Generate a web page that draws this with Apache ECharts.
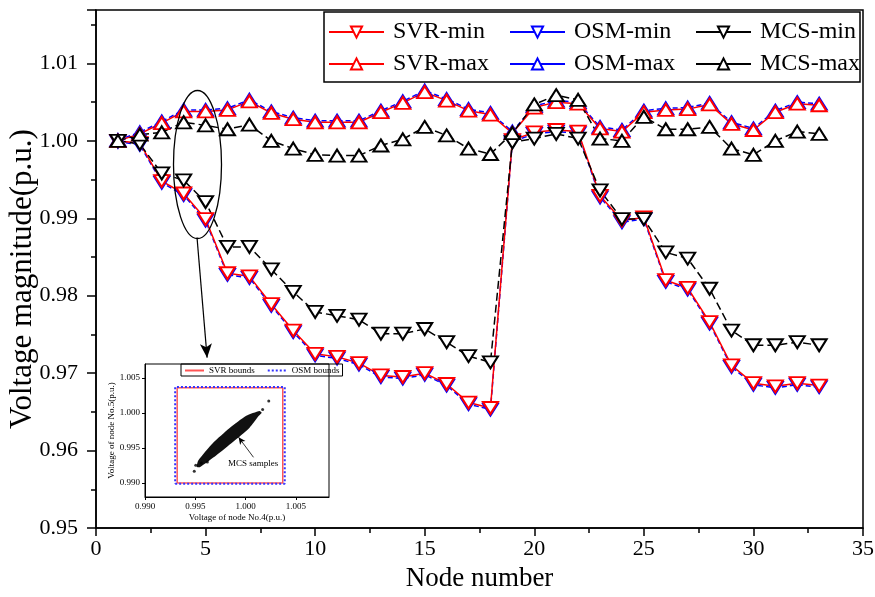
<!DOCTYPE html>
<html>
<head>
<meta charset="utf-8">
<script src="https://cdn.jsdelivr.net/npm/echarts@6/dist/echarts.min.js"></script>
<style>
html, body { margin: 0; padding: 0; background: #fff; }
#chart { width: 875px; height: 597px; }
</style>
</head>
<body>
<div id="chart"></div>
<script>
'use strict';

var nodes = [1, 2, 3, 4, 5, 6, 7, 8, 9, 10, 11, 12, 13, 14, 15, 16, 17,
    18, 19, 20, 21, 22, 23, 24, 25, 26, 27, 28, 29, 30, 31, 32, 33];

var svrMin = [1.0000, 0.9997, 0.9948, 0.9932, 0.9899, 0.9829, 0.9825, 0.9789, 0.9755, 0.9725, 0.9721,
    0.9713, 0.9697, 0.9695, 0.9700, 0.9686, 0.9662, 0.9655, 1.0001, 1.0011, 1.0014, 1.0012,
    0.9929, 0.9897, 0.9901, 0.9820, 0.9810, 0.9766, 0.9710, 0.9687, 0.9683, 0.9687, 0.9684];
var svrMax = [1.0000, 1.0009, 1.0023, 1.0038, 1.0038, 1.0040, 1.0051, 1.0036, 1.0028, 1.0024, 1.0024,
    1.0024, 1.0037, 1.0049, 1.0063, 1.0052, 1.0039, 1.0034, 1.0010, 1.0043, 1.0050, 1.0048,
    1.0016, 1.0012, 1.0037, 1.0040, 1.0041, 1.0047, 1.0022, 1.0014, 1.0037, 1.0048, 1.0046];
var osmMin = [0.9999, 0.9995, 0.9946, 0.9930, 0.9897, 0.9827, 0.9823, 0.9787, 0.9753, 0.9723, 0.9719,
    0.9711, 0.9695, 0.9693, 0.9698, 0.9684, 0.9660, 0.9653, 0.9999, 1.0009, 1.0012, 1.0010,
    0.9927, 0.9895, 0.9899, 0.9818, 0.9808, 0.9764, 0.9708, 0.9685, 0.9681, 0.9685, 0.9682];
var osmMax = [1.0001, 1.0011, 1.0025, 1.0040, 1.0040, 1.0042, 1.0053, 1.0038, 1.0030, 1.0026, 1.0026,
    1.0026, 1.0039, 1.0051, 1.0065, 1.0054, 1.0041, 1.0036, 1.0012, 1.0045, 1.0052, 1.0050,
    1.0018, 1.0014, 1.0039, 1.0042, 1.0043, 1.0049, 1.0024, 1.0016, 1.0039, 1.0050, 1.0048];
var mcsMin = [1.0000, 0.9996, 0.9958, 0.9949, 0.9921, 0.9863, 0.9863, 0.9834, 0.9805, 0.9779, 0.9774,
    0.9769, 0.9751, 0.9751, 0.9757, 0.9740, 0.9722, 0.9714, 0.9998, 1.0003, 1.0009, 1.0003,
    0.9936, 0.9899, 0.9899, 0.9856, 0.9848, 0.9809, 0.9755, 0.9736, 0.9736, 0.9740, 0.9736];
var mcsMax = [1.0000, 1.0008, 1.0011, 1.0024, 1.0020, 1.0015, 1.0021, 1.0000, 0.9990, 0.9982, 0.9981,
    0.9981, 0.9994, 1.0002, 1.0018, 1.0007, 0.9990, 0.9983, 1.0010, 1.0047, 1.0059, 1.0053,
    1.0003, 1.0000, 1.0031, 1.0015, 1.0015, 1.0018, 0.9990, 0.9982, 1.0000, 1.0012, 1.0009];

// inset: node 4 vs node 5 bounds and MCS sample cloud
var svrBox4 = [0.9932, 1.0037];
var svrBox5 = [0.9900, 1.0036];
var osmBox4 = [0.9930, 1.0039];
var osmBox5 = [0.9899, 1.0037];
var cloudNode4 = [0.99515, 0.99530, 0.99676, 0.99842, 1.00007, 1.00139, 1.00160,
    1.00132, 1.00040, 0.99874, 0.99710, 0.99545];
var cloudNode5 = [0.99231, 0.99320, 0.99570, 0.99785, 0.99960, 1.00030, 1.00005,
    0.99960, 0.99790, 0.99585, 0.99395, 0.99225];
var strayNode4 = [0.99490, 1.00231, 0.99505, 0.99560, 1.00170, 0.99620];
var strayNode5 = [0.99167, 1.00171, 0.99255, 0.99285, 1.00050, 0.99300];
var insetTicks = [0.990, 0.995, 1.000, 1.005];

var FONT = 'Liberation Serif';

function pairs(xs, ys) {
    return xs.map(function (x, i) { return [x, ys[i]]; });
}

function box(xr, yr) {
    return [[xr[0], yr[0]], [xr[1], yr[0]], [xr[1], yr[1]], [xr[0], yr[1]], [xr[0], yr[0]]];
}

function boundSeries(name, values, color, dash, down) {
    return {
        name: name,
        type: 'line',
        data: pairs(nodes, values),
        symbol: 'triangle',
        symbolSize: [15, 12],
        symbolRotate: down ? 180 : 0,
        lineStyle: { color: color, width: 1.5, type: dash },
        itemStyle: { color: '#fff', borderColor: color, borderWidth: 2 },
        z: 3
    };
}

var mainLegend = {
    orient: 'vertical',
    top: 20,
    itemWidth: 55,
    itemHeight: 14,
    itemGap: 8,
    padding: 0,
    selectedMode: false,
    lineStyle: { type: 'solid' },
    textStyle: { fontFamily: FONT, fontSize: 24, color: '#000', lineHeight: 24, padding: [0, 0, 0, 4] }
};

var chart = echarts.init(document.getElementById('chart'));

chart.setOption({
    animation: false,
    backgroundColor: '#fff',
    legend: [
        Object.assign({ left: 328, data: ['SVR-min', 'SVR-max'] }, mainLegend),
        Object.assign({ left: 509, data: ['OSM-min', 'OSM-max'] }, mainLegend),
        Object.assign({ left: 695, data: ['MCS-min', 'MCS-max'] }, mainLegend),
        {
            left: 181, top: 364,
            data: ['SVR bounds', 'OSM bounds'],
            itemWidth: 19, itemHeight: 8, itemGap: 12,
            padding: [2, 3, 1, 3],
            borderColor: '#000', borderWidth: 1,
            selectedMode: false,
            itemStyle: { opacity: 0 },
            textStyle: { fontFamily: FONT, fontSize: 9, color: '#000' }
        }
    ],
    grid: [
        { left: 96, right: 12, top: 10, bottom: 69, outerBoundsMode: 'none', containLabel: false,
            show: true, borderColor: '#000', borderWidth: 1.5 },
        { left: 145, top: 364, width: 184, height: 133, outerBoundsMode: 'none', containLabel: false,
            show: true, borderColor: '#000', borderWidth: 1, backgroundColor: '#fff' }
    ],
    xAxis: [{
        type: 'value', gridIndex: 0, min: 0, max: 35, interval: 5,
        name: 'Node number', nameLocation: 'middle', nameGap: 37, nameMoveOverlap: false,
        nameTextStyle: { fontFamily: FONT, fontSize: 27, color: '#000' },
        axisLine: { lineStyle: { color: '#000', width: 1.5 } },
        axisTick: { length: 8, lineStyle: { color: '#000', width: 1.5 } },
        minorTick: { show: true, splitNumber: 2, length: 5, lineStyle: { color: '#000', width: 1.5 } },
        axisLabel: { fontFamily: FONT, fontSize: 22, color: '#000', margin: 10 },
        splitLine: { show: false }
    }, {
        type: 'value', gridIndex: 1, min: 0.990, max: 1.0083,
        name: 'Voltage of node No.4(p.u.)', nameLocation: 'middle', nameGap: 16,
        nameTextStyle: { fontFamily: FONT, fontSize: 9, color: '#000' },
        axisLine: { lineStyle: { color: '#000', width: 1 } },
        axisTick: { length: 3, customValues: insetTicks, lineStyle: { color: '#000' } },
        axisLabel: {
            fontFamily: FONT, fontSize: 9, color: '#000', margin: 5, customValues: insetTicks,
            formatter: function (v) { return v.toFixed(3); }
        },
        splitLine: { show: false }
    }],
    yAxis: [{
        type: 'value', gridIndex: 0, min: 0.95, max: 1.0169, interval: 0.01,
        name: 'Voltage magnitude(p.u.)', nameLocation: 'middle', nameGap: 58, nameMoveOverlap: false,
        nameTextStyle: { fontFamily: FONT, fontSize: 31, color: '#000', padding: [0, 20, 0, 0] },
        axisLine: { lineStyle: { color: '#000', width: 1.5 } },
        axisTick: { length: 9, lineStyle: { color: '#000', width: 1.5 } },
        minorTick: { show: true, splitNumber: 2, length: 5, lineStyle: { color: '#000', width: 1.5 } },
        axisLabel: {
            fontFamily: FONT, fontSize: 22, color: '#000', margin: 18, showMaxLabel: false,
            formatter: function (v) { return v.toFixed(2); }
        },
        splitLine: { show: false }
    }, {
        type: 'value', gridIndex: 1, min: 0.988, max: 1.007,
        name: 'Voltage of node No.5(p.u.)', nameLocation: 'middle', nameGap: 28,
        nameTextStyle: { fontFamily: FONT, fontSize: 9, color: '#000' },
        axisLine: { lineStyle: { color: '#000', width: 1 } },
        axisTick: { length: 3, customValues: insetTicks, lineStyle: { color: '#000' } },
        axisLabel: {
            fontFamily: FONT, fontSize: 9, color: '#000', margin: 5, customValues: insetTicks,
            formatter: function (v) { return v.toFixed(3); }
        },
        splitLine: { show: false }
    }],
    series: [
        boundSeries('OSM-min', osmMin, '#0000ff', [5, 3], true),
        boundSeries('OSM-max', osmMax, '#0000ff', [5, 3], false),
        boundSeries('SVR-min', svrMin, '#ff0000', 'solid', true),
        boundSeries('SVR-max', svrMax, '#ff0000', 'solid', false),
        Object.assign(boundSeries('MCS-min', mcsMin, '#000000', [8, 4], true), {
            markLine: {
                silent: true,
                symbol: ['none', 'arrow'],
                symbolSize: [9, 14],
                lineStyle: { color: '#000', width: 1.2, type: 'solid' },
                label: { show: false },
                data: [[{ coord: [4.61, 0.9875] }, { coord: [5.07, 0.9720] }]]
            }
        }),
        boundSeries('MCS-max', mcsMax, '#000000', [8, 4], false),
        {
            name: 'MCS samples',
            type: 'custom',
            xAxisIndex: 1, yAxisIndex: 1,
            data: [[cloudNode4[0], cloudNode5[0]]],
            renderItem: function (params, api) {
                var pts = cloudNode4.map(function (v, i) { return api.coord([v, cloudNode5[i]]); });
                return { type: 'polygon', shape: { points: pts, smooth: 0.2 }, style: { fill: '#111' } };
            },
            z: 4
        },
        {
            name: 'stray samples',
            type: 'scatter',
            xAxisIndex: 1, yAxisIndex: 1,
            data: pairs(strayNode4, strayNode5),
            symbolSize: 3,
            itemStyle: { color: '#000' },
            z: 4
        },
        {
            name: 'SVR bounds',
            type: 'line',
            xAxisIndex: 1, yAxisIndex: 1,
            data: box(svrBox4, svrBox5),
            symbol: 'none',
            lineStyle: { color: '#ff5555', width: 1.5 },
            z: 5,
            markLine: {
                silent: true,
                symbol: ['none', 'arrow'],
                symbolSize: [5, 7],
                lineStyle: { color: '#000', width: 0.8, type: 'solid' },
                label: { show: false },
                data: [[{ coord: [1.00079, 0.99367] }, { coord: [0.99931, 0.99653] }]]
            }
        },
        {
            name: 'OSM bounds',
            type: 'line',
            xAxisIndex: 1, yAxisIndex: 1,
            data: box(osmBox4, osmBox5),
            symbol: 'none',
            lineStyle: { color: '#3333ff', width: 2, type: [2, 2] },
            z: 5
        }
    ],
    graphic: [
        {
            type: 'rect',
            shape: { x: 324, y: 12, width: 536, height: 70 },
            style: { fill: 'none', stroke: '#000', lineWidth: 1.5 },
            z: 10
        },
        {
            type: 'ellipse',
            shape: { cx: 197.5, cy: 164.5, rx: 24, ry: 74 },
            style: { fill: 'none', stroke: '#000', lineWidth: 1.3 },
            z: 10
        },
        {
            type: 'text',
            left: 228, top: 459,
            style: { text: 'MCS samples', font: '9px "Liberation Serif"', fill: '#000' },
            z: 10
        }
    ]
});
</script>
</body>
</html>
